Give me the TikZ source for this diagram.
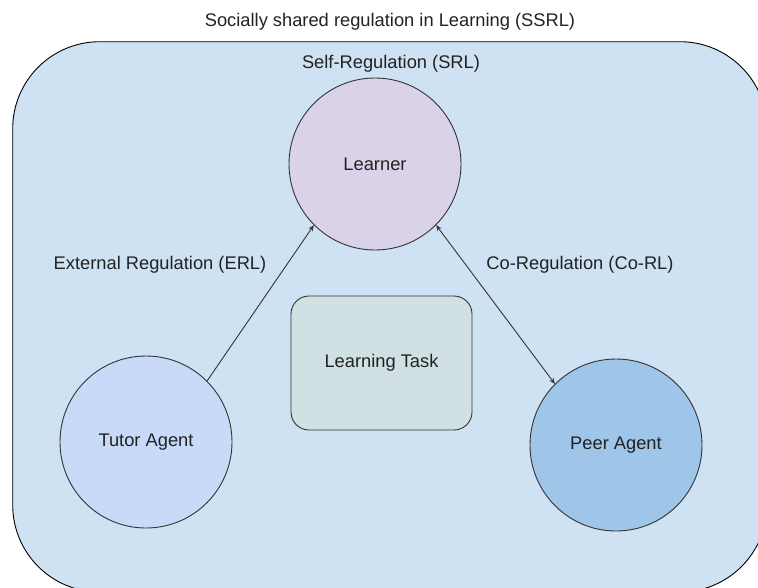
\documentclass[tikz,border=0pt]{standalone}
\usepackage{fontspec}
\setmainfont{Liberation Sans}
\usetikzlibrary{arrows.meta}
\definecolor{outerfill}{HTML}{CFE2F3}
\definecolor{learnerfill}{HTML}{D9D2E9}
\definecolor{tutorfill}{HTML}{C9DAF8}
\definecolor{peerfill}{HTML}{9FC5E8}
\definecolor{taskfill}{HTML}{D0E0E3}
\definecolor{linecol}{HTML}{333333}
\definecolor{textcol}{HTML}{222222}
\tikzset{
  agent/.style={circle, draw=linecol, line width=0.9pt, minimum size=172pt, inner sep=0pt, text=textcol},
  taskbox/.style={rectangle, rounded corners=18pt, draw=linecol, line width=0.9pt, fill=taskfill, minimum width=181pt, minimum height=134pt, text=textcol},
  lbl/.style={text=textcol, inner sep=0pt},
  conn/.style={draw=linecol, line width=0.9pt},
  tip/.tip={Stealth[length=6pt,width=5pt]}
}
\begin{document}
\begin{tikzpicture}[x=1pt,y=-1pt, font=\fontsize{18.3}{22}\selectfont]
\useasboundingbox (0,0) rectangle (758,587);
\begin{scope}
\clip (0,0) rectangle (758,587);
\draw[fill=outerfill, draw=black, line width=0.9pt, rounded corners=87pt] (12.7,41.7) rectangle (767,592);
\end{scope}
\node[lbl] (title) at (390,21.5) {Socially shared regulation in Learning (SSRL)};
\node[lbl] (srl) at (391,64) {Self-Regulation (SRL)};
\node[agent, fill=learnerfill] (learner) at (375,164) {Learner};
\node[agent, fill=tutorfill] (tutor) at (146,442) {Tutor Agent};
\node[agent, fill=peerfill] (peer) at (616,445) {Peer Agent};
\node[taskbox] (task) at (381.5,363) {Learning Task};
\node[lbl] (erl) at (160,265) {External Regulation (ERL)};
\node[lbl] (corl) at (580,265) {Co-Regulation (Co-RL)};
\draw[conn, -{tip}] (tutor.45) -- (learner.225);
\draw[conn, {tip}-{tip}] (learner.-45) -- (peer.135);
\end{tikzpicture}
\end{document}
